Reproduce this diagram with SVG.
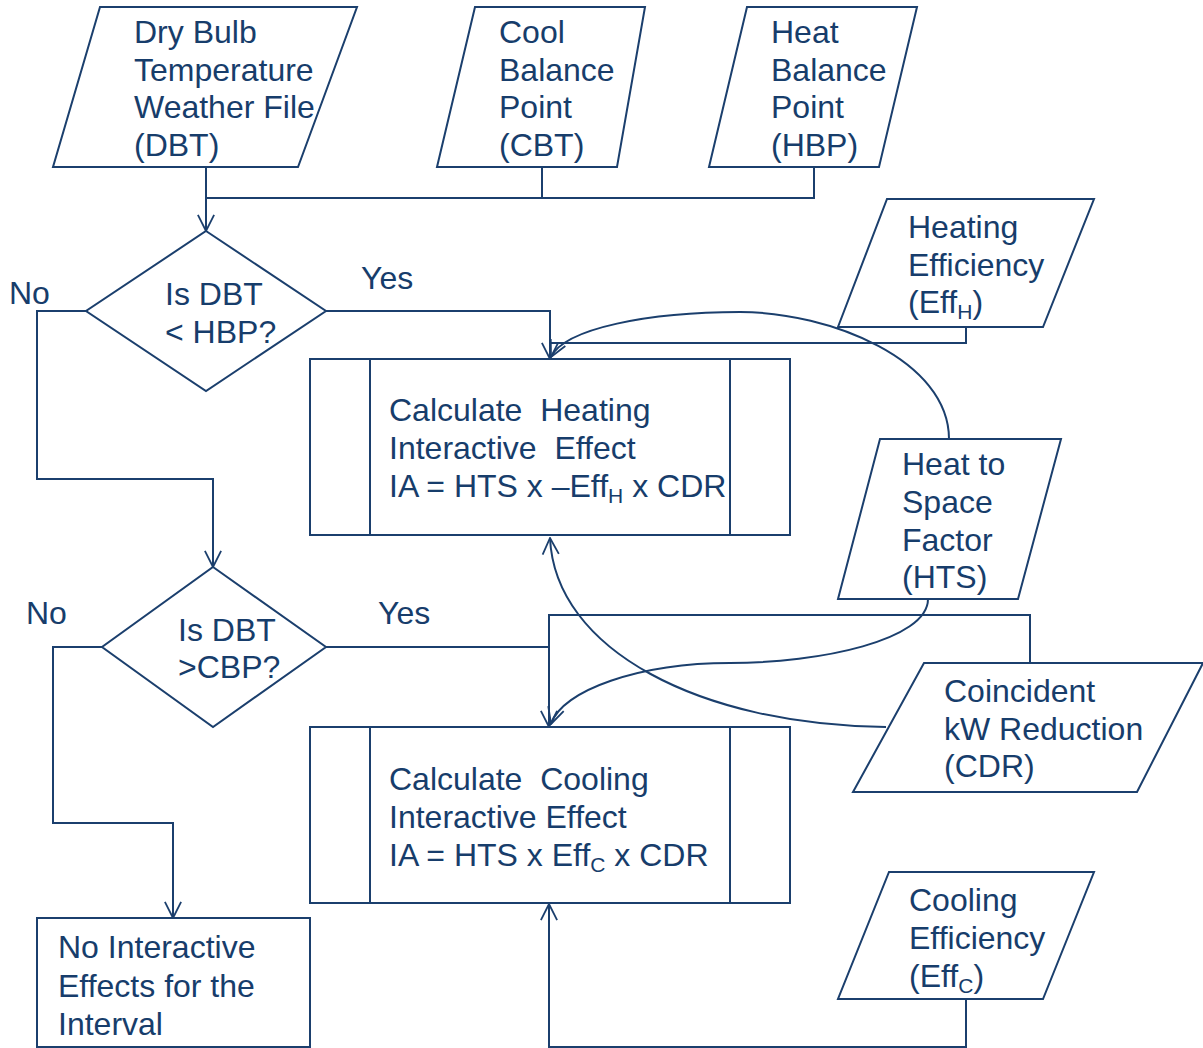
<svg xmlns="http://www.w3.org/2000/svg" width="1203" height="1048" viewBox="0 0 1203 1048">
<style>
.s{fill:#fff;stroke:#1B3F6D;stroke-width:2}
.c{fill:none;stroke:#1B3F6D;stroke-width:2}
.t{font-family:"Liberation Sans",Arial,sans-serif;font-size:32px;fill:#173D6B}
.sub{font-size:21px}
</style>
<defs>
<marker id="b" viewBox="0 0 20 20" refX="19" refY="10" markerWidth="18" markerHeight="20" markerUnits="userSpaceOnUse" orient="auto">
<path d="M1,1 L19,10 L1,19" fill="none" stroke="#1B3F6D" stroke-width="2"/>
</marker>
</defs>
<rect width="1203" height="1048" fill="#fff"/>
<g id="connectors">
<path class="c" d="M206,167 V198 H814 V167 M542,198 V167"/>
<path class="c" d="M206,198 V231" marker-end="url(#b)"/>
<path class="c" d="M326,311 H550 V359" marker-end="url(#b)"/>
<path class="c" d="M966,327 V343 H550"/>
<path class="c" d="M949,439 C949,360 830,312 740,312 C650,312 565,328 551,357" marker-end="url(#b)"/>
<path class="c" d="M86,311 H37 V479 H213 V567" marker-end="url(#b)"/>
<path class="c" d="M326,647 H549"/>
<path class="c" d="M1030,663 V615 H549 V727" marker-end="url(#b)"/>
<path class="c" d="M928,599 C928,640 820,663 730,663 C640,663 562,690 551,724" marker-end="url(#b)"/>
<path class="c" d="M886,727 C700,725 555,650 550,538" marker-end="url(#b)"/>
<path class="c" d="M102,647 H53 V823 H173 V918" marker-end="url(#b)"/>
<path class="c" d="M966,999 V1047 H549 V904" marker-end="url(#b)"/>
</g>
<g id="labels" class="t">
<text x="361" y="289">Yes</text>
<text x="9" y="304">No</text>
<text x="378" y="624">Yes</text>
<text x="26" y="624">No</text>
</g>
<g id="dbt">
<polygon class="s" points="100,7 357,7 298,167 53,167"/>
<text class="t"><tspan x="134" y="43">Dry Bulb</tspan><tspan x="134" y="81">Temperature</tspan><tspan x="134" y="118">Weather File</tspan><tspan x="134" y="156">(DBT)</tspan></text>
</g>
<g id="cbt">
<polygon class="s" points="475,7 645,7 617,167 437,167"/>
<text class="t"><tspan x="499" y="43">Cool</tspan><tspan x="499" y="81">Balance</tspan><tspan x="499" y="118">Point</tspan><tspan x="499" y="156">(CBT)</tspan></text>
</g>
<g id="hbp">
<polygon class="s" points="747,7 917,7 879,167 709,167"/>
<text class="t"><tspan x="771" y="43">Heat</tspan><tspan x="771" y="81">Balance</tspan><tspan x="771" y="118">Point</tspan><tspan x="771" y="156">(HBP)</tspan></text>
</g>
<g id="decision1">
<polygon class="s" points="206,231 326,311 206,391 86,311"/>
<text class="t"><tspan x="165" y="305">Is DBT</tspan><tspan x="165" y="343">&lt; HBP?</tspan></text>
</g>
<g id="effh">
<polygon class="s" points="887,199 1094,199 1043,327 838,327"/>
<text class="t"><tspan x="908" y="238">Heating</tspan><tspan x="908" y="276">Efficiency</tspan><tspan x="908" y="313">(Eff</tspan><tspan class="sub" dy="6">H</tspan><tspan dy="-6">)</tspan></text>
</g>
<g id="heating">
<rect class="s" x="310" y="359" width="480" height="176"/>
<path class="c" d="M370,359 V535 M730,359 V535"/>
<text class="t" xml:space="preserve"><tspan x="389" y="421">Calculate  Heating</tspan><tspan x="389" y="459">Interactive  Effect</tspan><tspan x="389" y="497">IA = HTS x –Eff</tspan><tspan class="sub" dy="6">H</tspan><tspan dy="-6"> x CDR</tspan></text>
</g>
<g id="hts">
<polygon class="s" points="880,439 1061,439 1018,599 838,599"/>
<text class="t"><tspan x="902" y="475">Heat to</tspan><tspan x="902" y="513">Space</tspan><tspan x="902" y="551">Factor</tspan><tspan x="902" y="588">(HTS)</tspan></text>
</g>
<g id="decision2">
<polygon class="s" points="213,567 326,647 213,727 102,647"/>
<text class="t"><tspan x="178" y="641">Is DBT</tspan><tspan x="178" y="678">&gt;CBP?</tspan></text>
</g>
<g id="cdr">
<polygon class="s" points="924,663 1203,663 1137,792 853,792"/>
<text class="t"><tspan x="944" y="702">Coincident</tspan><tspan x="944" y="740">kW Reduction</tspan><tspan x="944" y="777">(CDR)</tspan></text>
</g>
<g id="cooling">
<rect class="s" x="310" y="727" width="480" height="176"/>
<path class="c" d="M370,727 V903 M730,727 V903"/>
<text class="t" xml:space="preserve"><tspan x="389" y="790">Calculate  Cooling</tspan><tspan x="389" y="828">Interactive Effect</tspan><tspan x="389" y="866">IA = HTS x Eff</tspan><tspan class="sub" dy="6">C</tspan><tspan dy="-6"> x CDR</tspan></text>
</g>
<g id="effc">
<polygon class="s" points="889,872 1094,872 1043,999 838,999"/>
<text class="t"><tspan x="909" y="911">Cooling</tspan><tspan x="909" y="949">Efficiency</tspan><tspan x="909" y="987">(Eff</tspan><tspan class="sub" dy="6">C</tspan><tspan dy="-6">)</tspan></text>
</g>
<g id="nointeractive">
<rect class="s" x="37" y="918" width="273" height="129"/>
<text class="t"><tspan x="58" y="958">No Interactive</tspan><tspan x="58" y="997">Effects for the</tspan><tspan x="58" y="1035">Interval</tspan></text>
</g>
</svg>
